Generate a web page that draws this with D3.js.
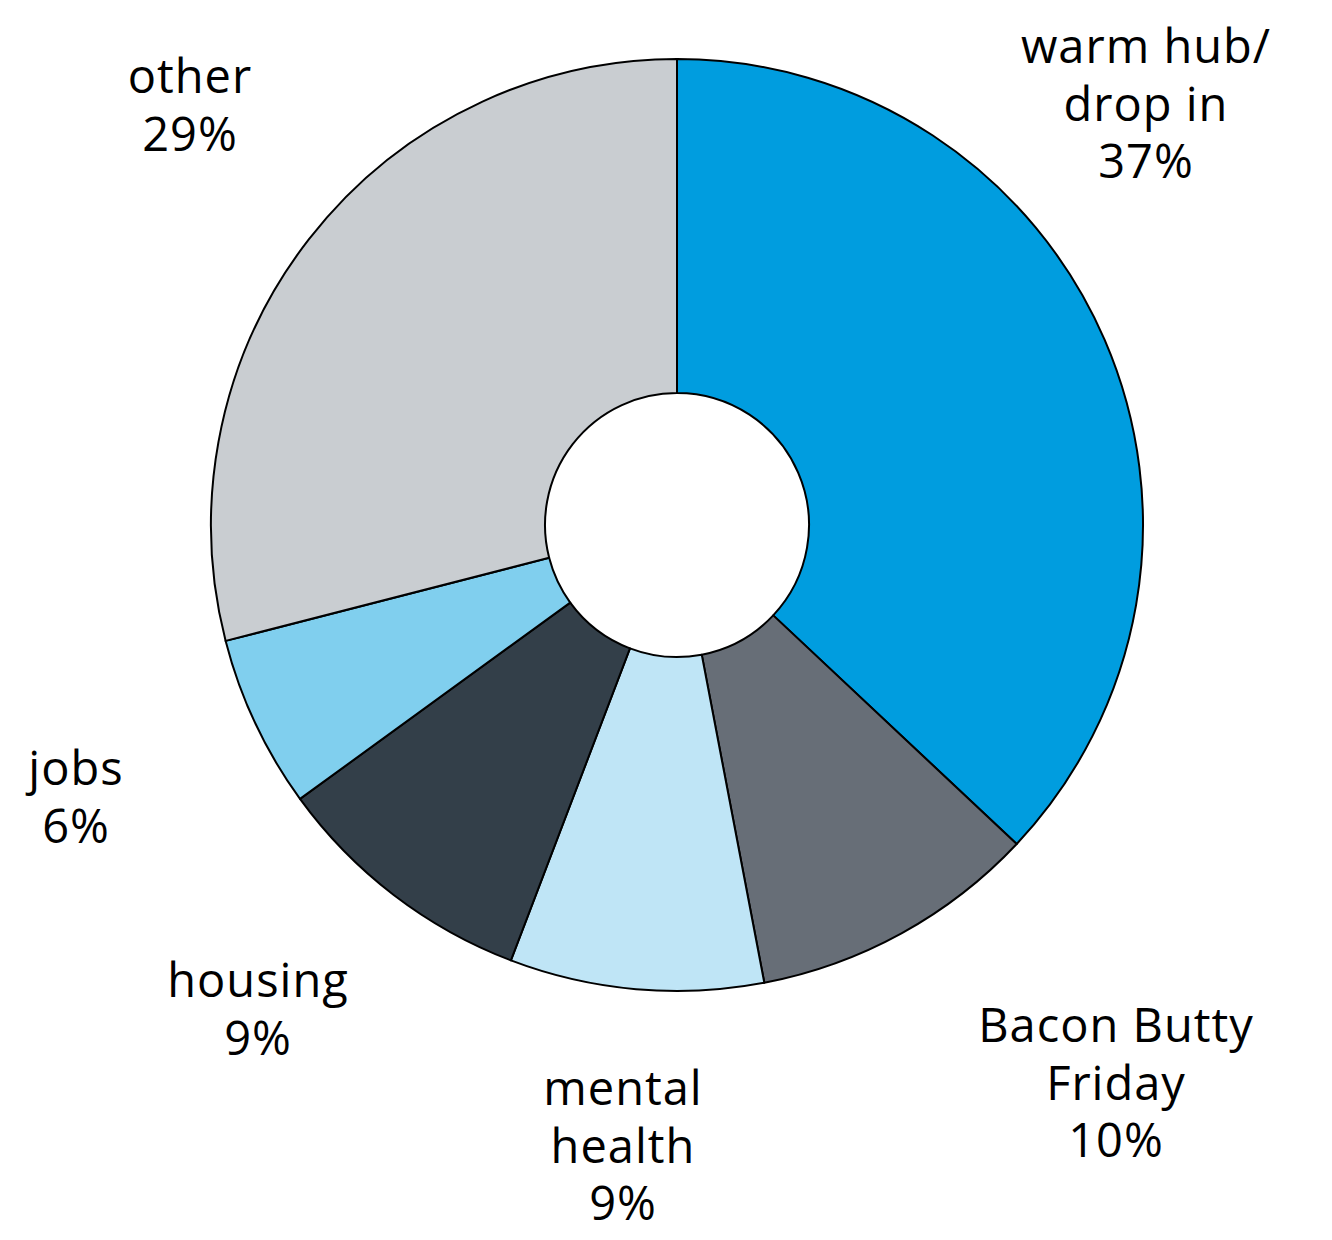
<!DOCTYPE html>
<html><head><meta charset="utf-8">
<script src="https://cdn.jsdelivr.net/npm/d3@7"></script>
<style>html,body{margin:0;padding:0;background:#fff;}</style>
</head><body>
<svg id="chart" width="1332" height="1240"></svg>
<script>
const categories = ["warm hub/ drop in", "Bacon Butty Friday", "mental health", "housing", "jobs", "other"];
const values = [37, 10, 8.8, 9.2, 6, 29];
const colors = ["#009ddf", "#676e77", "#bfe5f6", "#333f49", "#80cfee", "#c9cdd1"];
const labelLines = [["warm hub/", "drop in", "37%"], ["Bacon Butty", "Friday", "10%"], ["mental", "health", "9%"], ["housing", "9%"], ["jobs", "6%"], ["other", "29%"]];
const labelPos = [[1146, 63], [1116, 1042], [623, 1105], [258, 997], [76, 785], [190, 93]];

const svg = d3.select("#chart");
const cx = 677, cy = 525, R = 466, r = 132;
const g = svg.append("g").attr("transform", `translate(${cx},${cy})`);
const pie = d3.pie().sort(null).value(d => d);
const arc = d3.arc().innerRadius(r).outerRadius(R);
g.selectAll("path").data(pie(values)).join("path")
  .attr("d", arc)
  .attr("fill", (d, i) => colors[i])
  .attr("stroke", "#000")
  .attr("stroke-width", 2)
  .attr("stroke-linejoin", "round");

const lbl = svg.append("g").attr("font-family", "'Open Sans', sans-serif").attr("font-size", 47)
  .attr("letter-spacing", 1).attr("fill", "#000").attr("text-anchor", "middle");
labelLines.forEach((lines, i) => {
  const t = lbl.append("text").attr("x", labelPos[i][0]).attr("y", labelPos[i][1]);
  lines.forEach((ln, j) => {
    t.append("tspan").attr("x", labelPos[i][0]).attr("y", labelPos[i][1] + j * 57.5).text(ln);
  });
});
</script>
</body></html>
